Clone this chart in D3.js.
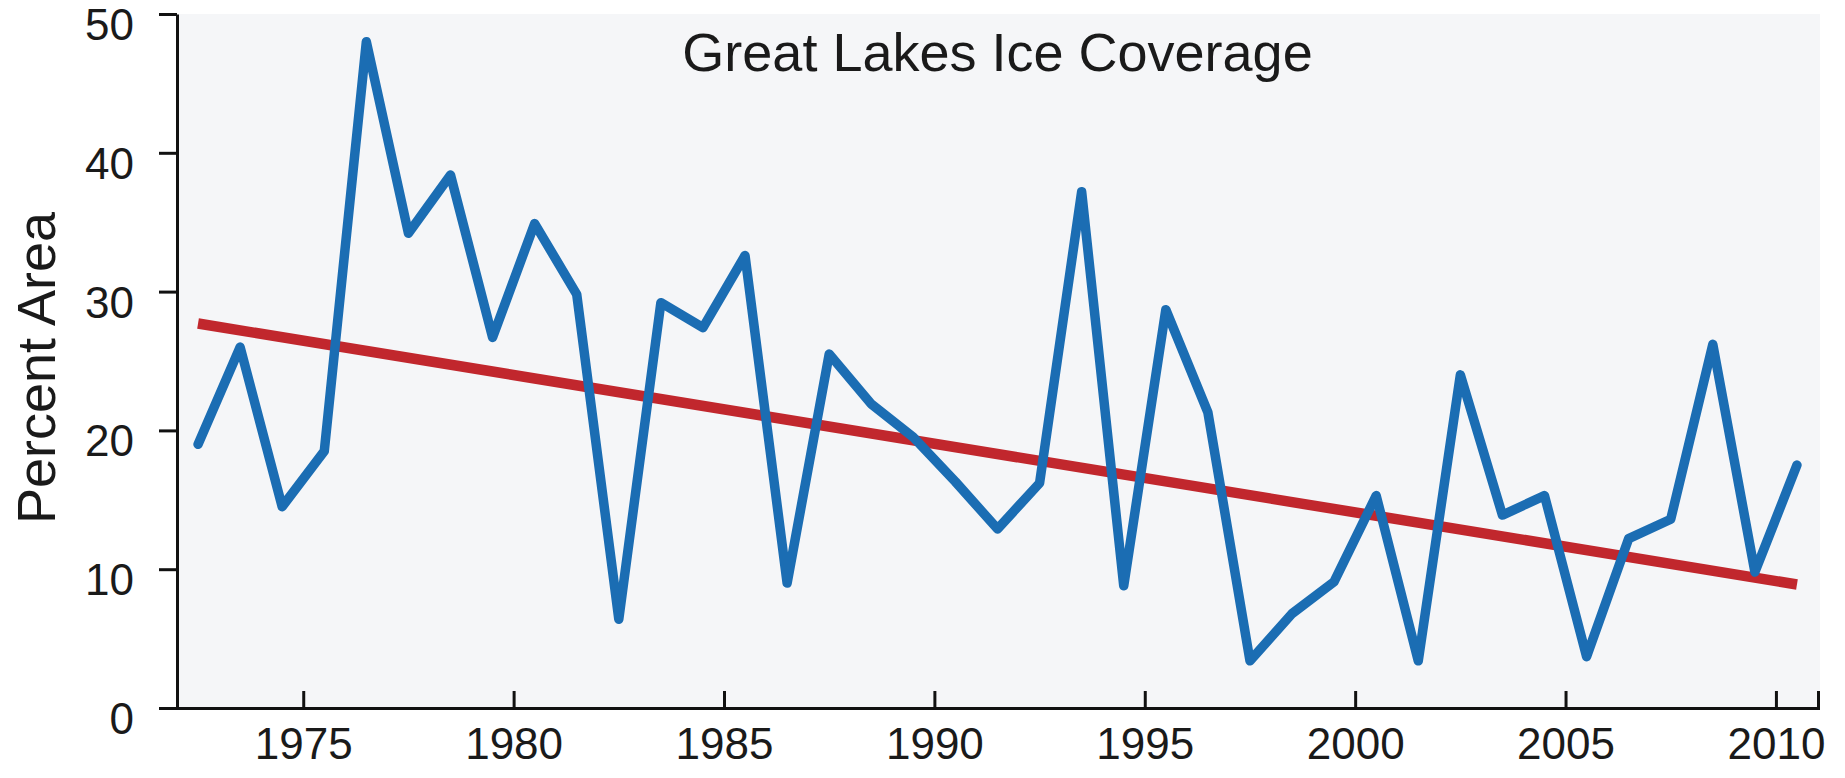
<!DOCTYPE html>
<html>
<head>
<meta charset="utf-8">
<script src="https://cdn.jsdelivr.net/npm/d3@7"></script>
<style>
  body { margin: 0; background: #ffffff; }
  text { font-family: "Liberation Sans", Arial, sans-serif; fill: #1a1a1a; }
</style>
</head>
<body>
<div id="plot"></div>
<script>
// winter ice season (year the winter ends), plotted mid-winter
var years = [1973, 1974, 1975, 1976, 1977, 1978, 1979, 1980, 1981, 1982,
  1983, 1984, 1985, 1986, 1987, 1988, 1989, 1990, 1991, 1992,
  1993, 1994, 1995, 1996, 1997, 1998, 1999, 2000, 2001, 2002,
  2003, 2004, 2005, 2006, 2007, 2008, 2009, 2010, 2011];
var iceCover = [19.0, 26.0, 14.5, 18.5, 48.0, 34.2, 38.4, 26.7, 34.9, 29.8,
  6.4, 29.2, 27.4, 32.6, 9.0, 25.5, 21.9, 19.5, 16.3, 12.9,
  16.2, 37.2, 8.8, 28.7, 21.3, 3.4, 6.8, 9.1, 15.3, 3.4,
  24.0, 13.9, 15.3, 3.7, 12.2, 13.6, 26.2, 9.8, 17.5];
var trendYears = [1973, 2011];
var trendValues = [27.7, 8.9];
var xTicks = [1975, 1980, 1985, 1990, 1995, 2000, 2005, 2010];
var yTicks = [0, 10, 20, 30, 40, 50];

var margin = { top: 14, right: 27, bottom: 70, left: 177 },
  width = 1845 - margin.left - margin.right,
  height = 778 - margin.top - margin.bottom;

var svg = d3.select("div#plot")
  .append("svg")
  .attr("width", 1845)
  .attr("height", 778)
  .append("g")
  .attr("transform", `translate(${margin.left},${margin.top})`);

// light grey plot area
svg.append("rect")
  .attr("width", width + 2)
  .attr("height", height)
  .attr("fill", "#f5f6f8");

var x = d3.scaleLinear().domain([1972, 2011]).range([0, width]);
var y = d3.scaleLinear().domain([0, 50]).range([height, 0]);

var iceData = years.map(function (d, i) { return { year: d, value: iceCover[i] }; });
var trendData = trendYears.map(function (d, i) { return { year: d, value: trendValues[i] }; });

var line = d3.line()
  .x(d => x(d.year - 0.5))
  .y(d => y(d.value));

svg.append("path")
  .datum(trendData)
  .attr("fill", "none")
  .attr("stroke", "#c1272d")
  .attr("stroke-width", 10.5)
  .attr("d", line);

svg.append("path")
  .datum(iceData)
  .attr("fill", "none")
  .attr("stroke", "#1b6db3")
  .attr("stroke-width", 9.5)
  .attr("stroke-linejoin", "round")
  .attr("stroke-linecap", "round")
  .attr("d", line);

// x axis, ticks point up into the plot
var xAxis = svg.append("g")
  .attr("transform", `translate(0,${height})`)
  .call(d3.axisBottom(x)
    .tickValues(xTicks)
    .tickFormat(d3.format("d"))
    .tickSize(-17)
    .tickSizeOuter(-17)
    .tickPadding(20));

// y axis, ticks point out
var yAxis = svg.append("g")
  .call(d3.axisLeft(y)
    .tickValues(yTicks)
    .tickSize(18)
    .tickSizeOuter(0)
    .tickPadding(25));

// y labels sit a little below their ticks
yAxis.selectAll(".tick text").attr("dy", "0.58em");

svg.selectAll(".domain, .tick line")
  .attr("stroke", "#111")
  .attr("stroke-width", 3);

svg.selectAll(".tick text")
  .style("font-size", "44px")
  .style("font-family", "'Liberation Sans', Arial, sans-serif")
  .attr("fill", "#1a1a1a");

svg.append("text")
  .attr("x", width / 2)
  .attr("y", 57)
  .attr("text-anchor", "middle")
  .style("font-size", "54px")
  .text("Great Lakes Ice Coverage");

svg.append("text")
  .attr("transform", "rotate(-90)")
  .attr("x", -354)
  .attr("y", 55 - margin.left)
  .attr("text-anchor", "middle")
  .style("font-size", "54px")
  .text("Percent Area");
</script>
</body>
</html>
